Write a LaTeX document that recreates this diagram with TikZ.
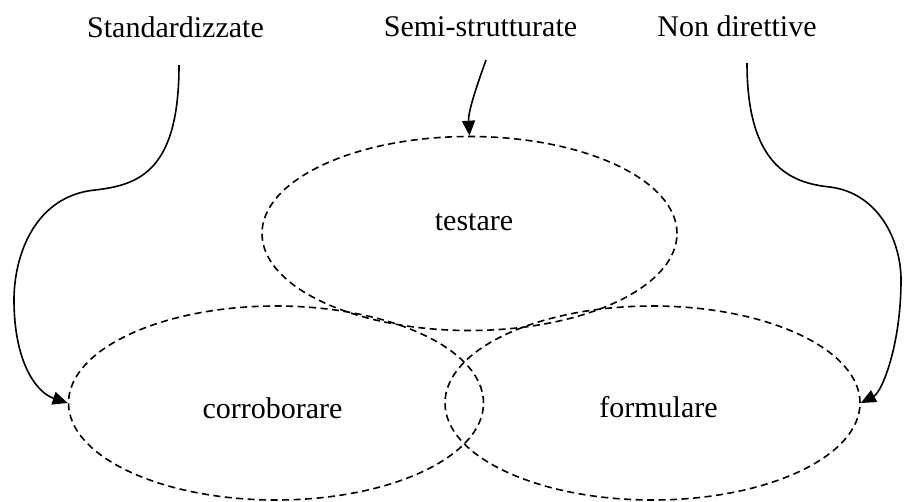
\documentclass[tikz,border=0pt]{standalone}
\usepackage{fontspec}
\setmainfont{Liberation Serif}
\usetikzlibrary{shapes.geometric,arrows.meta}
\tikzset{
  lab/.style={anchor=base,inner sep=0pt,font=\fontsize{30}{36}\selectfont},
  ell/.style={draw,ellipse,dash pattern=on 7pt off 4.5pt,line width=1.6pt,inner sep=0pt,minimum width=415pt,minimum height=194pt},
  conn/.style={line width=1.6pt,-{Triangle[length=15pt,width=13pt]}}
}
\begin{document}
\begin{tikzpicture}[x=1pt,y=-1pt]
\useasboundingbox (0,0) rectangle (904,501);
% ellipses
\node[ell] (T) at (469.5,233.5) {};
\node[ell] (C) at (276,403) {};
\node[ell] (F) at (652.5,403) {};
% labels
\node[lab] (S) at (175.5,37) {Standardizzate};
\node[lab] (M) at (480.5,36) {Semi-strutturate};
\node[lab] (N) at (737,36) {Non direttive};
\node[lab] (lt) at (474,230) {testare};
\node[lab] (lc) at (272.5,418) {corroborare};
\node[lab] (lf) at (658.5,417) {formulare};
% connector starts
\coordinate (s1) at (179,65);
\coordinate (s2) at (486,60);
\coordinate (s3) at (747,63);
% connectors
\draw[conn] (s1) .. controls (179,170) and (140,185) .. (95,190)
  .. controls (35,196) and (14,255) .. (14,300)
  .. controls (14,360) and (35,392) .. (C.west);
\draw[conn] (s2) .. controls (476,88) and (468,112) .. (T.north);
\draw[conn] (s3) .. controls (747,165) and (790,183) .. (830,187)
  .. controls (878,193) and (901,240) .. (901,280)
  .. controls (901,345) and (882,392) .. (F.east);
\end{tikzpicture}
\end{document}
